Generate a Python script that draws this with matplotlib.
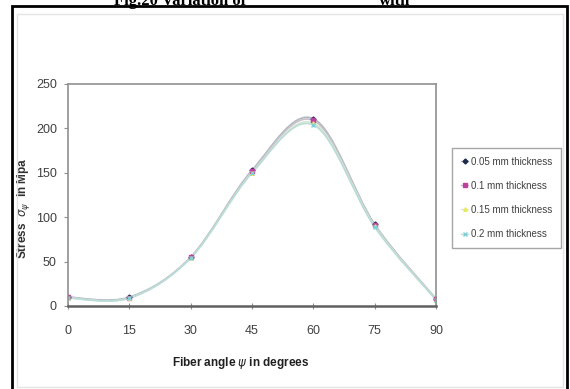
import matplotlib.pyplot as plt
from matplotlib.path import Path
from matplotlib.patches import PathPatch, Rectangle
import numpy as np

angles = [0, 15, 30, 45, 60, 75, 90]
stress_005 = [10, 10, 55, 153, 211, 92, 8]
stress_010 = [10, 9, 55, 152, 209, 91, 8]
stress_015 = [9, 9, 54, 150, 206, 90, 7]
stress_020 = [9, 9, 54, 150, 204, 89, 7]
labels = ['0.05 mm thickness', '0.1 mm thickness', '0.15 mm thickness', '0.2 mm thickness']
x_ticks = [0, 15, 30, 45, 60, 75, 90]
y_ticks = [0, 50, 100, 150, 200, 250]

font = ['Liberation Sans Narrow', 'Liberation Sans', 'DejaVu Sans']


def smooth_path(xs, ys, t=1/6):
    # excel style smoothed line as cubic bezier segments
    pts = np.column_stack([xs, ys]).astype(float)
    n = len(pts)
    verts = [pts[0]]
    codes = [Path.MOVETO]
    for i in range(n - 1):
        p0 = pts[i - 1] if i > 0 else pts[i]
        p1 = pts[i]
        p2 = pts[i + 1]
        p3 = pts[i + 2] if i + 2 < n else pts[i + 1]
        c1 = p1 + (p2 - p0) * t
        c2 = p2 - (p3 - p1) * t
        verts += [c1, c2, p2]
        codes += [Path.CURVE4] * 3
    return Path(verts, codes)


fig = plt.figure(figsize=(5.7, 3.89), dpi=100)
fig.patches.append(Rectangle((12 / 570, -0.05), 555 / 570, 1.05 - 6 / 389, transform=fig.transFigure,
                             fill=False, edgecolor='black', linewidth=2))
fig.patches.append(Rectangle((17 / 570, 0.005), 546 / 570, 1 - 16 / 389, transform=fig.transFigure,
                             fill=False, edgecolor='#e4e4e4', linewidth=1))
fig.text(0.2, 0.997, 'Fig.20 Variation of', fontsize=12, fontweight='bold', family='Liberation Serif',
         va='center', ha='left')
fig.text(0.665, 0.997, 'with', fontsize=12, fontweight='bold', family='Liberation Serif',
         va='center', ha='left')

ax = fig.add_axes([68 / 570, 1 - 306 / 389, 368 / 570, 222 / 389])

series = [stress_005, stress_010, stress_015, stress_020]
line_colors = ['#b0b8c0', '#c8c0cc', '#d8e8d0', '#b8dcd8']
markers = ['D', 's', '^', 'x']
marker_colors = ['#1a2a4a', '#c040a0', '#e8e860', '#80d0d8']
for vals, lc, mk, mc, lab in zip(series, line_colors, markers, marker_colors, labels):
    ax.add_patch(PathPatch(smooth_path(angles, vals), facecolor='none', edgecolor=lc, linewidth=1.2))
    ax.plot(angles, vals, linestyle='none', marker=mk, markersize=2.5, color=mc)
    ax.plot([], [], color=lc, marker=mk, markersize=2.5, markerfacecolor=mc, markeredgecolor=mc,
            linewidth=1, label=lab)

ax.set_xlim(0, 90)
ax.set_ylim(0, 250)
ax.set_xticks(x_ticks)
ax.set_yticks(y_ticks)
for s in ax.spines.values():
    s.set_color('#909090')
    s.set_linewidth(1.2)
ax.spines['bottom'].set_color('#606060')
ax.spines['bottom'].set_linewidth(1.8)
ax.tick_params(axis='both', labelsize=9, colors='#909090', labelcolor='#404040', length=3)
ax.tick_params(axis='x', direction='inout', length=5, pad=11)
ax.tick_params(axis='y', pad=5)
for lbl in ax.get_xticklabels() + ax.get_yticklabels():
    lbl.set_family(font)

ax.set_xlabel('Fiber angle $\\psi$ in degrees', fontsize=8.5, fontweight='bold', family=font,
              color='#202020')
ax.xaxis.set_label_coords(0.47, -0.22)
ax.set_ylabel('Stress  $\\sigma_\\psi$  in Mpa', fontsize=8.5, fontweight='bold', family=font,
              color='#303030')
ax.yaxis.set_label_coords(-0.097, 0.44)

leg = ax.legend(loc='upper left', bbox_to_anchor=(447 / 570, 1 - 143 / 389), bbox_transform=fig.transFigure,
                frameon=True, fancybox=False, edgecolor='#909090', handlelength=0.8,
                handletextpad=0.3, labelspacing=1.45, borderpad=0.9, prop={'family': font, 'size': 7})
for t in leg.get_texts():
    t.set_color('#404040')

fig.savefig('out.png', dpi=100)
